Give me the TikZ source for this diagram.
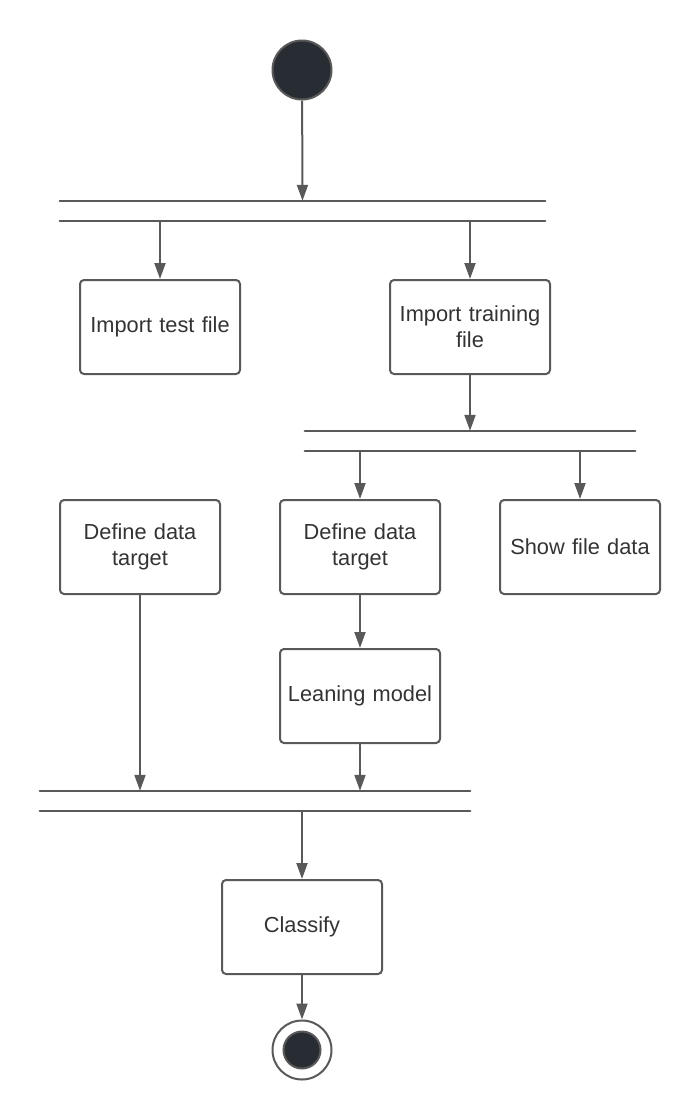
\documentclass[tikz,border=0pt]{standalone}
\usepackage{fontspec}
\setmainfont{Liberation Sans}
\usetikzlibrary{arrows.meta,positioning}

\definecolor{linegray}{HTML}{595959}
\definecolor{textgray}{HTML}{333333}
\definecolor{dotfill}{HTML}{282C33}

\begin{document}
\begin{tikzpicture}[x=1pt, y=-1pt,
    node distance=10mm,
    box/.style={
        draw=linegray,
        line width=2pt,
        rounded corners=4pt,
        align=center,
        inner sep=0pt,
        minimum width=160pt,
        minimum height=94pt,
        text width=152pt,
        text=textgray,
        font=\fontsize{21.8}{25.6}\selectfont
    },
    bar/.style={inner sep=0pt, minimum height=20pt},
    rail/.style={draw=linegray, line width=2.4pt, line cap=round},
    dot/.style={circle, draw=linegray, line width=2pt, fill=dotfill, inner sep=0pt},
    line/.style={-{Triangle[length=16pt, width=11pt]}, draw=linegray, line width=2pt}
]
\useasboundingbox (0,0) rectangle (700,1120);

\node[dot, minimum size=59pt] (start) at (302,70) {};

\node[bar, minimum width=485pt] (fork1) at (302.5,211) {};
\draw[rail] (fork1.north west) -- (fork1.north east);
\draw[rail] (fork1.south west) -- (fork1.south east);

\node[box] (test) at (160,327) {Import test file};
\node[box] (train) at (470,327) {Import training\\file};

\node[bar, minimum width=330pt] (fork2) at (470,441) {};
\draw[rail] (fork2.north west) -- (fork2.north east);
\draw[rail] (fork2.south west) -- (fork2.south east);

\node[box] (targetL) at (140,547) {Define data\\target};
\node[box] (targetM) at (360,547) {Define data\\target};
\node[box] (show) at (580,547) {Show file data};
\node[box, below=53pt of targetM] (learn) {Leaning model};

\node[bar, minimum width=430pt] (join) at (255,801) {};
\draw[rail] (join.north west) -- (join.north east);
\draw[rail] (join.south west) -- (join.south east);

\node[box] (classify) at (302,927) {Classify};

\node[circle, draw=linegray, line width=2pt, fill=white, minimum size=59pt, inner sep=0pt] (end) at (302,1050) {};
\node[dot, minimum size=37pt] (endcore) at (end) {};

\draw[line] (start) -- (fork1.north);
\draw[line] (fork1.south -| test.north) -- (test.north);
\draw[line] (fork1.south -| train.north) -- (train.north);
\draw[line] (train) -- (train.south |- fork2.north);
\draw[line] (fork2.south -| targetM.north) -- (targetM.north);
\draw[line] (fork2.south -| show.north) -- (show.north);
\draw[line] (targetM) -- (learn);
\draw[line] (targetL) -- (targetL.south |- join.north);
\draw[line] (learn) -- (learn.south |- join.north);
\draw[line] (join.south -| classify.north) -- (classify.north);
\draw[line] (classify) -- (end);

\end{tikzpicture}
\end{document}
